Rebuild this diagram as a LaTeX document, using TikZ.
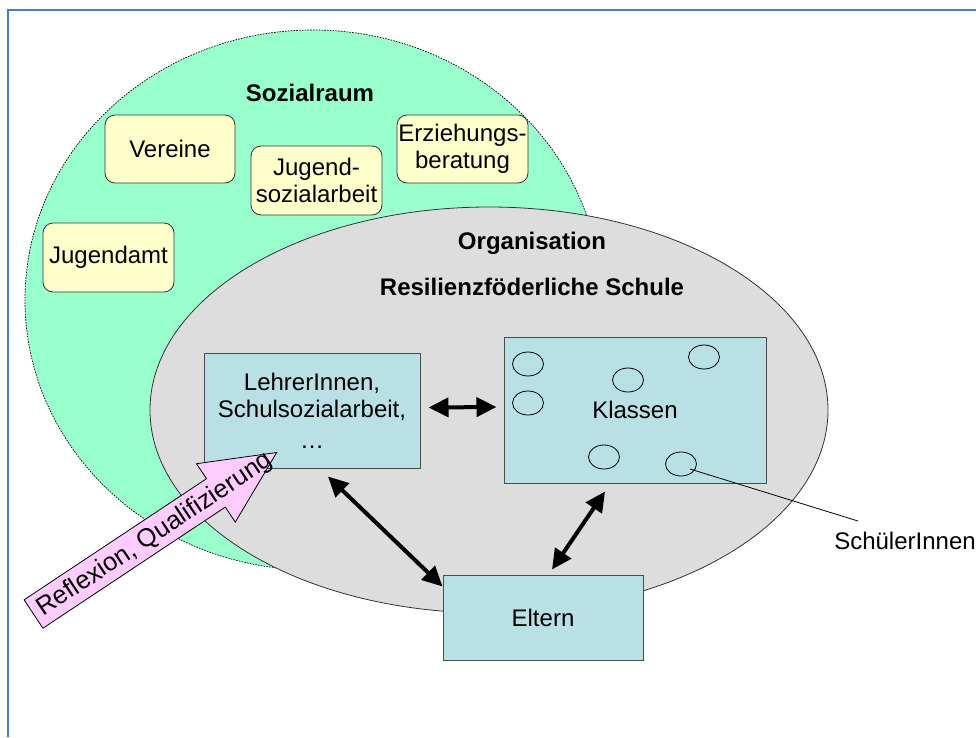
\documentclass[tikz,border=0pt]{standalone}
\usepackage{fontspec}
\setmainfont{Liberation Sans}
\usetikzlibrary{arrows.meta,calc,shapes.geometric}
\definecolor{frameblue}{HTML}{4A7EBB}
\definecolor{raumgreen}{HTML}{99FFCC}
\definecolor{orggray}{HTML}{DDDDDD}
\definecolor{boxyellow}{HTML}{FFFFCC}
\definecolor{boxteal}{HTML}{B9E0E4}
\definecolor{arrowpink}{HTML}{FFCCFF}
\tikzset{
  ybox/.style={draw=black!80, fill=boxyellow, rounded corners=10pt, inner sep=0pt, align=center, line width=0.8pt},
  tbox/.style={draw=black!70, fill=boxteal, inner sep=0pt, align=center, line width=1pt},
  pupil/.style={draw=black, ellipse, minimum width=31pt, minimum height=24pt, inner sep=0pt, line width=0.8pt},
  dbl/.style={{Triangle[length=20pt,width=19pt]}-{Triangle[length=20pt,width=19pt]}, line width=4pt, black},
  titletext/.style={font=\fontsize{24}{27}\selectfont\bfseries},
}
\begin{document}
\begin{tikzpicture}[x=1pt,y=-1pt,font=\fontsize{24}{27}\selectfont]
\useasboundingbox (0,0) rectangle (976,737);
% frame
\draw[frameblue, line width=2pt] (7.5,737) -- (7.5,10) -- (976,10);
% Sozialraum ellipse
\filldraw[fill=raumgreen, draw=black, line width=0.7pt, dash pattern=on 1.6pt off 1.2pt] (313,300) ellipse [x radius=288pt, y radius=270pt];
\node[titletext] (sr) at (310,93) {Sozialraum};
\node[ybox, minimum width=130pt, minimum height=68pt] (ver) at (170,149) {Vereine};
\node[ybox, minimum width=131pt, minimum height=69pt] (jsa) at (316.5,180.5) {Jugend-\\sozialarbeit};
\node[ybox, minimum width=131pt, minimum height=68pt] (erz) at (462.5,149) {Erziehungs-\\beratung};
\node[ybox, minimum width=131pt, minimum height=69pt] (ja) at (108.5,257.5) {Jugendamt};
% Organisation ellipse
\filldraw[fill=orggray, draw=black!80, line width=0.8pt] (489,410) ellipse [x radius=339pt, y radius=203pt];
\node[titletext] (org) at (532,243) {Organisation};
\node[titletext] (rs) at (532,287) {Resilienzföderliche Schule};
% boxes
\node[tbox, minimum width=216pt, minimum height=115pt] (L) at (312,410.5) {LehrerInnen,\\Schulsozialarbeit,\\[4pt]…};
\node[tbox, minimum width=262pt, minimum height=146pt] (K) at (635,410) {\raisebox{-2pt}{Klassen}};
\node[tbox, minimum width=200pt, minimum height=85pt] (E) at (543,617.5) {Eltern};
% pupils
\node[pupil] (p1) at (528,364) {};
\node[pupil] (p2) at (528,403) {};
\node[pupil] (p3) at (628,380) {};
\node[pupil] (p4) at (704,357) {};
\node[pupil] (p5) at (604,457) {};
\node[pupil] (p6) at (681,464) {};
\node[anchor=center] (S) at (905,541) {SchülerInnen};
\coordinate (sline) at (858,521);
\draw[line width=0.8pt] ($(p6.center)+(9,5)$) -- (sline);
% arrows
\draw[dbl] ($(L.east)+(8,-3)$) -- ($(K.west)+(-7,-3)$);
\draw[dbl] ($(L.south)+(16,8)$) -- ($(E.north west)+(0,12)$);
\draw[dbl] ($(K.south)+(-30,8)$) -- ($(E.north)+(9,-5)$);
% pink arrow
\filldraw[fill=arrowpink, draw=black, line width=0.8pt]
  (24.1,599.8) -- (206.5,478.7) -- (196.5,463.7) -- (276.7,452.5) -- (235.3,522.1) -- (225.3,507.1) -- (42.9,628.2) -- cycle;
\node[rotate=33.6, font=\fontsize{25.5}{28}\selectfont] (refl) at (155,535) {Reflexion, Qualifizierung};
\end{tikzpicture}
\end{document}
